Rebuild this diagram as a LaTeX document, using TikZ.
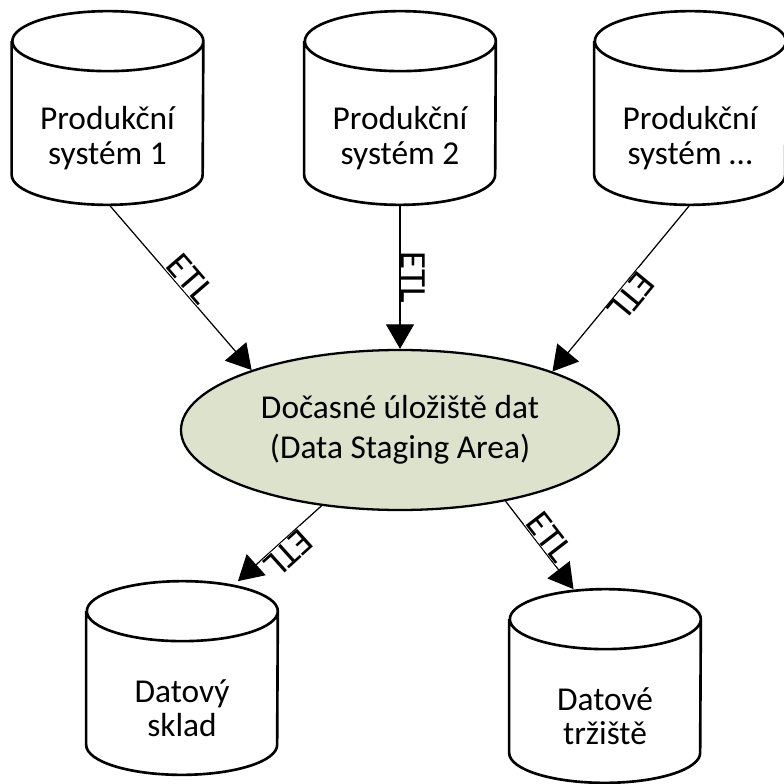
\documentclass[tikz,border=0pt]{standalone}
\usepackage{fontspec}
\setmainfont{Carlito}
\usepackage{tikz}
\usetikzlibrary{shapes,arrows.meta,positioning}
\definecolor{stagingfill}{RGB}{221,226,204}
\tikzstyle{db} = [minimum width=3.82cm, minimum height=3.86cm, inner sep=0pt,
  append after command={\pgfextra{\draw[line width=1.5pt]
    ([yshift=-0.6cm]\tikzlastnode.north west) -- ([yshift=0.6cm]\tikzlastnode.south west)
    arc[start angle=180,end angle=360,x radius=1.91cm,y radius=0.6cm]
    -- ([yshift=-0.6cm]\tikzlastnode.north east)
    arc[start angle=0,end angle=360,x radius=1.91cm,y radius=0.6cm];}}]
\tikzstyle{dbtext} = [align=center, yshift=-0.6cm, font=\fontsize{19}{19.5}\selectfont]
\tikzstyle{area} = [draw, ellipse, fill=stagingfill, line width=1.3pt, minimum width=8.76cm, minimum height=3.2cm, inner sep=0pt, align=center, font=\fontsize{19}{19.5}\selectfont]
\tikzstyle{etl} = [sloped, allow upside down, fill=white, inner sep=0.5pt, font=\fontsize{21}{21}\selectfont]

\begin{document}
\begin{tikzpicture}[>={Triangle[length=14pt,width=16pt]},auto,node distance=5.85cm]
  \useasboundingbox (-8,2.16) rectangle (7.66,-13.52);
  \node[db,label={[dbtext]center:{Produkční\\systém 2}}] (prod2) {};
  \node[db,left of=prod2,label={[dbtext]center:{Produkční\\systém 1}}] (prod1) {};
  \node[db,right of=prod2,node distance=5.8cm,label={[dbtext]center:{Produkční\\systém \dots}}] (prodN) {};

  \node[area,below of=prod2,node distance=6.44cm] (dsa) {Dočasné úložiště dat\\[3pt](Data Staging Area)};

  \node[db,below of=dsa,node distance=4.96cm,xshift=-4.36cm,label={[dbtext]center:{Datový\\sklad}}] (sklad) {};
  \node[db,below of=dsa,node distance=5.12cm,xshift=4.1cm,label={[dbtext]center:{Datové\\tržiště}}] (trziste) {};

  \begin{scope}[every path/.style={draw,line width=0.7pt}]
    \path[->] (prod1.-89) -- node[etl] {ETL} (dsa.158);
    \path[->] (prod2.-90) -- node[etl] {ETL} (dsa.north);
    \path[->] (prodN.-90) -- node[etl] {ETL} (dsa.21);
    \path[->] (dsa.224) -- node[etl] {ETL} (sklad.60);
    \path[->] (dsa.-34) -- node[etl] {ETL} (trziste.108);
  \end{scope}
\end{tikzpicture}
\end{document}
